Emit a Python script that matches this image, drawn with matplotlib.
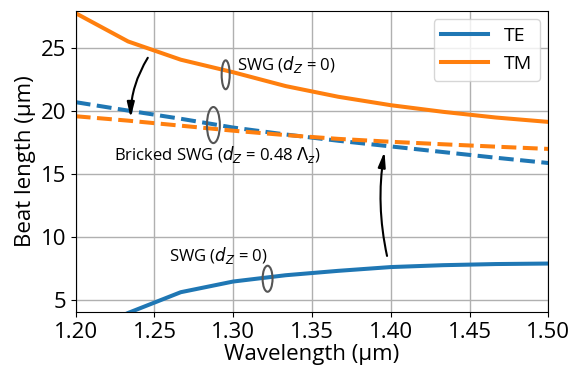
import matplotlib
matplotlib.use('Agg')
import matplotlib.pyplot as plt
from matplotlib.patches import Ellipse

plt.rcParams['font.family'] = ['Open Sans', 'DejaVu Sans']

# wavelength samples (um)
wl = [1.2000, 1.2333, 1.2667, 1.3000, 1.3333, 1.3667, 1.4000, 1.4333, 1.4667, 1.5000]

# beat lengths (um), plain SWG (dZ = 0)
te_swg = [2.0, 3.95, 5.6, 6.45, 6.95, 7.3, 7.6, 7.75, 7.84, 7.88]
tm_swg = [27.8, 25.55, 24.1, 23.1, 22.0, 21.15, 20.48, 19.95, 19.5, 19.15]

# beat lengths (um), bricked SWG (dZ = 0.48 Lambda_z)
te_brick = [20.72, 20.05, 19.4, 18.7, 18.15, 17.65, 17.2, 16.75, 16.3, 15.88]
tm_brick = [19.6, 19.25, 18.85, 18.45, 18.1, 17.8, 17.57, 17.37, 17.18, 17.0]

fig, ax = plt.subplots(figsize=(5.84, 3.71), dpi=100)
fig.subplots_adjust(left=0.1296, right=0.9389, bottom=0.1582, top=0.9712)

ax.plot(wl, te_swg, color='tab:blue', lw=2.9, label='TE')
ax.plot(wl, tm_swg, color='tab:orange', lw=2.9, label='TM')
ax.plot(wl, te_brick, color='tab:blue', lw=2.9, ls='--')
ax.plot(wl, tm_brick, color='tab:orange', lw=2.9, ls='--')

ax.set_xlim(1.2, 1.5)
ax.set_ylim(4, 28)
ax.set_xticks([1.20, 1.25, 1.30, 1.35, 1.40, 1.45, 1.50])
ax.set_yticks([5, 10, 15, 20, 25])
ax.tick_params(labelsize=16)
ax.grid(True, color='#b0b0b0', lw=1)
ax.set_xlabel('Wavelength (µm)', fontsize=16, labelpad=1)
ax.set_ylabel('Beat length (µm)', fontsize=16, labelpad=3)

ax.legend(loc='upper right', fontsize=14, handlelength=2.4, borderaxespad=0.45)

# ellipses grouping the curves
for cx, cy, w, h in [(1.2952, 22.9, 0.0051, 2.3),
                     (1.2874, 18.9, 0.0082, 2.87),
                     (1.3218, 6.67, 0.0063, 2.07)]:
    ax.add_patch(Ellipse((cx, cy), w, h, fill=False, ec='#555555', lw=1.5, zorder=5))

ax.text(1.3022, 23.75, r'SWG ($d_Z$ = 0)', fontsize=12, va='center')
ax.text(1.2245, 16.55, r'Bricked SWG ($d_Z$ = 0.48 $\Lambda_z$)', fontsize=12, va='center')
ax.text(1.259, 8.5, r'SWG ($d_Z$ = 0)', fontsize=12, va='center')

# arrows from plain SWG to bricked SWG
ax.annotate('', xy=(1.2349, 19.26), xytext=(1.2467, 24.44),
            arrowprops=dict(arrowstyle='-|>,head_width=0.22,head_length=0.9',
                            color='black', lw=1.5, connectionstyle='arc3,rad=0.15'))
ax.annotate('', xy=(1.3963, 17.0), xytext=(1.398, 8.27),
            arrowprops=dict(arrowstyle='-|>,head_width=0.22,head_length=0.9',
                            color='black', lw=1.5, connectionstyle='arc3,rad=-0.1'))

fig.savefig('out.png', dpi=100)
